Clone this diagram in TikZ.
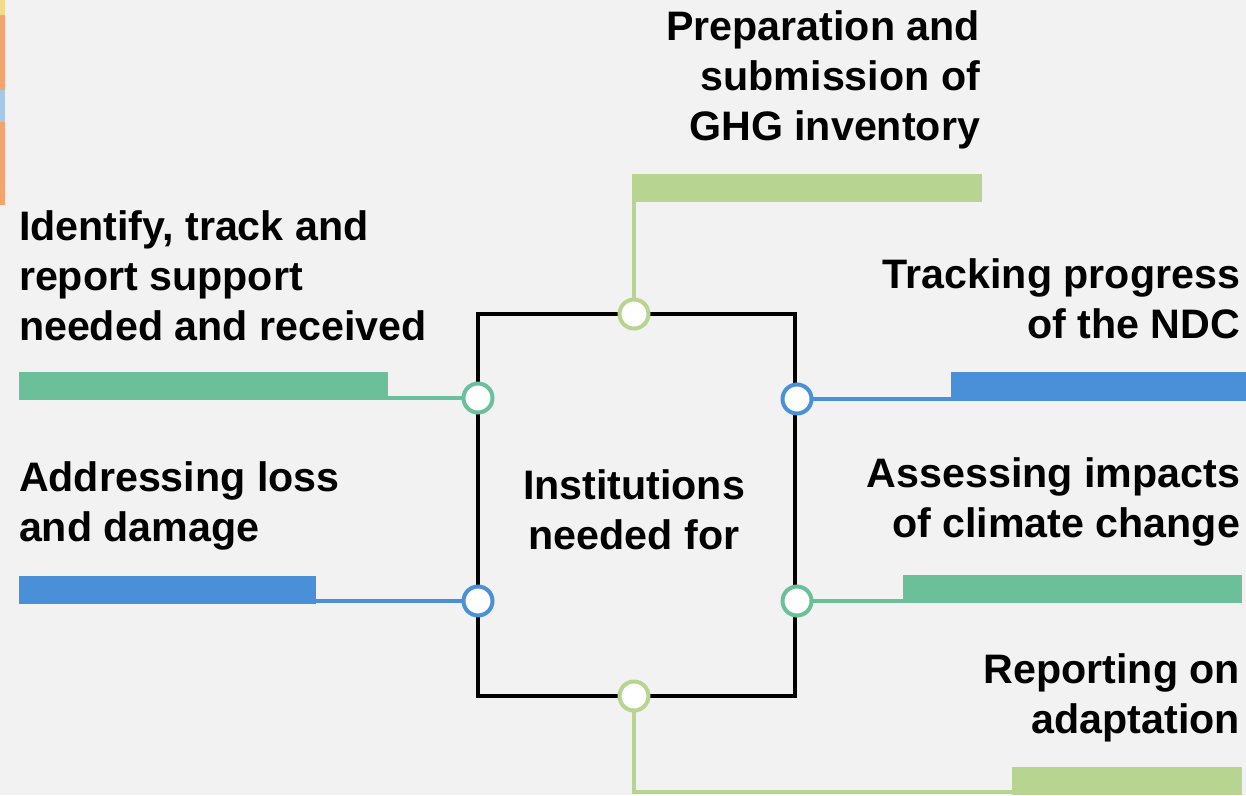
\documentclass[tikz,border=0pt]{standalone}
\usepackage{fontspec}
\setmainfont{Liberation Sans}
\definecolor{bg}{HTML}{F2F2F2}
\definecolor{lgreen}{HTML}{B7D590}
\definecolor{tgreen}{HTML}{6BBF99}
\definecolor{cblue}{HTML}{4A90D9}
\definecolor{sorange}{HTML}{F4A46C}
\definecolor{syellow}{HTML}{F3DB8E}
\definecolor{sblue}{HTML}{A8C8E8}
\begin{document}
\begin{tikzpicture}[x=1pt,y=-1pt,
  lbl/.style={font=\bfseries\fontsize{41.2}{50}\selectfont, inner sep=0pt, outer sep=0pt, text=black},
  dot/.style={circle, draw=#1, fill=white, line width=4pt, minimum size=29pt, inner sep=0pt},
  conn/.style={draw=#1, line width=3.5pt},
  bar/.style={fill=#1, draw=none, inner sep=0pt, outer sep=0pt, anchor=north west}]
\useasboundingbox (0,0) rectangle (1246,795);
\fill[bg] (0,0) rectangle (1246,795);
% left edge strip
\fill[syellow] (0,0) rectangle (5,15);
\fill[sorange] (0,15) rectangle (5,90);
\fill[sblue] (0,90) rectangle (5,122);
\fill[sorange] (0,122) rectangle (5,205);

% bars
\node[bar=lgreen, minimum width=350pt, minimum height=28pt] (btop) at (632,174) {};
\node[bar=tgreen, minimum width=369pt, minimum height=28pt] (bl1) at (19,372) {};
\node[bar=cblue, minimum width=297pt, minimum height=28pt] (bl2) at (19,576) {};
\node[bar=cblue, minimum width=295pt, minimum height=29pt] (br1) at (951,372) {};
\node[bar=tgreen, minimum width=339pt, minimum height=28pt] (br2) at (903,575) {};
\node[bar=lgreen, minimum width=230pt, minimum height=28pt] (bbot) at (1012,767) {};

% box
\node[draw=black, line width=4pt, minimum width=317pt, minimum height=382pt, inner sep=0pt] (box) at (636.5,505) {};
\node[lbl, align=center, anchor=base] (tinst) at (634,549) {Institutions\\needed for};

% circles
\coordinate (ptop) at (634,314);
\coordinate (pl1) at (478,398);
\coordinate (pl2) at (478,601);
\coordinate (pr1) at (797,399);
\coordinate (pr2) at (797,601);
\coordinate (pbot) at (634,696);
\coordinate (bend) at (634,792);

% connectors
\draw[conn=lgreen] (ptop) -- (ptop |- btop.south);
\draw[conn=tgreen] (pl1) -- (bl1.east |- pl1);
\draw[conn=cblue] (pl2) -- (bl2.east |- pl2);
\draw[conn=cblue] (pr1) -- (br1.west |- pr1);
\draw[conn=tgreen] (pr2) -- (br2.west |- pr2);
\draw[conn=lgreen] (pbot) -- (bend) -- (bbot.west |- bend);

\node[dot=lgreen] (ctop) at (ptop) {};
\node[dot=tgreen] (cl1) at (pl1) {};
\node[dot=cblue] (cl2) at (pl2) {};
\node[dot=cblue] (cr1) at (pr1) {};
\node[dot=tgreen] (cr2) at (pr2) {};
\node[dot=lgreen] (cbot) at (pbot) {};

% labels (base anchor = baseline of last line)
\node[lbl, align=right, anchor=base east] (tprep) at (980,140) {Preparation and\\submission of\\GHG inventory};
\node[lbl, align=left, anchor=base west] (tiden) at (19,340) {Identify, track and\\report support\\needed and received};
\node[lbl, align=right, anchor=base east] (ttrack) at (1240,338) {Tracking progress\\of the NDC};
\node[lbl, align=left, anchor=base west] (tloss) at (19,541) {Addressing loss\\and damage};
\node[lbl, align=right, anchor=base east] (tassess) at (1240,537) {Assessing impacts\\of climate change};
\node[lbl, align=right, anchor=base east] (trep) at (1240,733) {Reporting on\\adaptation};
\end{tikzpicture}
\end{document}
